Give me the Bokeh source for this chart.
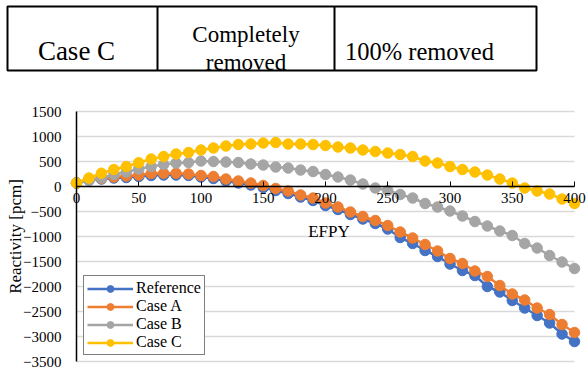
import math
from bokeh.plotting import figure
from bokeh.models import Range1d, LinearAxis, FixedTicker, Legend, LegendItem, Label, ColumnDataSource
from bokeh.core.properties import value
from bokeh.embed import file_html
from bokeh.resources import INLINE

# ---- data ----
efpy = list(range(0, 401, 10))
reference = [70, 130, 150, 170, 180, 200, 220, 230, 230, 220,
             190, 160, 110, 70, 30, -20, -80, -140, -210, -280,
             -380, -460, -560, -650, -740, -850, -1020, -1140, -1280, -1400,
             -1550, -1680, -1780, -2000, -2110, -2280, -2430, -2580, -2730, -2950,
             -3100]
case_a = [70, 150, 160, 190, 210, 230, 260, 265, 265, 250,
          220, 200, 150, 110, 70, 20, -40, -90, -170, -230,
          -330, -410, -510, -600, -680, -780, -910, -1030, -1160, -1290,
          -1440, -1540, -1690, -1800, -1980, -2150, -2270, -2430, -2560, -2760,
          -2920]
case_b = [70, 120, 170, 240, 290, 350, 400, 440, 470, 480,
          510, 500, 490, 480, 450, 430, 390, 370, 330, 300,
          240, 190, 130, 50, -30, -80, -160, -230, -340, -410,
          -490, -590, -700, -790, -890, -980, -1140, -1230, -1380, -1510,
          -1640]
case_c = [70, 170, 265, 340, 400, 475, 550, 600, 650, 680,
          730, 770, 810, 840, 850, 870, 880, 850, 850, 840,
          820, 790, 770, 730, 700, 670, 640, 600, 510, 470,
          400, 340, 290, 230, 150, 70, -30, -90, -150, -250,
          -340]
series_names = ["Reference", "Case A", "Case B", "Case C"]
series_colors = ["#4472C4", "#ED7D31", "#A5A5A5", "#FFC000"]
x_ticks = list(range(0, 401, 50))
y_ticks = list(range(-3500, 1501, 500))

table_texts = ["Case C", "Completely", "removed", "100% removed"]

SERIF = "Liberation Serif, DejaVu Serif, serif"

W, H = 588, 372
# plot-area placement on the page (pixels)
FL, FR, FT, FB = 76, 574, 111, 361
X0, X1 = x_ticks[0], x_ticks[-1]
Y0, Y1 = y_ticks[0], y_ticks[-1]
xs = (FR - FL) / (X1 - X0)
ys = (FB - FT) / (Y1 - Y0)

p = figure(width=W, height=H, x_range=Range1d(0, W), y_range=Range1d(H, 0),
           output_backend="svg", toolbar_location=None,
           x_axis_location=None, y_axis_location=None, min_border=0)
p.grid.visible = False
p.outline_line_color = None
p.extra_x_ranges = {"efpy": Range1d(X0 - FL / xs, X1 + (W - FR) / xs)}
p.extra_y_ranges = {"react": Range1d(Y0 - (H - FB) / ys, Y1 + FT / ys)}

# ---- table strip (page pixel coordinates) ----
p.quad(left=[7], right=[536], top=[6], bottom=[70], fill_color=None,
       line_color="black", line_width=2)
p.segment(x0=[157, 334], y0=[6, 6], x1=[157, 334], y1=[70, 70],
          line_color="black", line_width=2)
tsrc = ColumnDataSource(dict(x=[76, 245.5, 245.5, 419], y=[50.5, 33.5, 61.5, 50.5],
                             text=table_texts, fs=["27px", "23px", "23px", "24.5px"]))
p.text(x="x", y="y", text="text", source=tsrc,
       text_font=value(SERIF), text_font_size="fs", text_color="black",
       text_align="center", text_baseline="alphabetic")

# ---- gridlines ----
p.segment(x0=[X0] * len(y_ticks), x1=[X1] * len(y_ticks), y0=y_ticks, y1=y_ticks,
          line_color="#d9d9d9", line_width=1.5,
          x_range_name="efpy", y_range_name="react")

# ---- axes ----
ya = LinearAxis(x_range_name="efpy", y_range_name="react", fixed_location=0,
                bounds=(Y0, Y1), ticker=FixedTicker(ticks=y_ticks))
ya.major_label_text_font = SERIF
ya.major_label_text_font_size = "15px"
ya.major_label_text_color = "black"
ya.major_label_standoff = 15
ya.major_tick_in = 0
ya.major_tick_out = 0
ya.minor_tick_in = 0
ya.minor_tick_out = 0
ya.axis_line_color = "black"
ya.axis_line_width = 1.5
p.add_layout(ya, "left")

xa = LinearAxis(x_range_name="efpy", y_range_name="react", fixed_location=0,
                bounds=(X0, X1), ticker=FixedTicker(ticks=x_ticks))
xa.major_label_text_font = SERIF
xa.major_label_text_font_size = "15px"
xa.major_label_text_color = "black"
xa.major_label_standoff = 6
xa.major_tick_in = 5
xa.major_tick_out = 0
xa.minor_tick_in = 0
xa.minor_tick_out = 0
xa.axis_line_color = "black"
xa.axis_line_width = 1.5
p.add_layout(xa, "below")

p.add_layout(Label(x=15, y=(FT + FB) / 2, text="Reactivity [pcm]", angle=math.pi / 2,
                   text_font=SERIF, text_font_size="17px", text_color="black",
                   text_align="center", text_baseline="middle"))
p.add_layout(Label(x=328.5, y=231, text="EFPY",
                   text_font=SERIF, text_font_size="17px", text_color="black",
                   text_align="center", text_baseline="middle"))

# ---- series ----
items = []
for name, yv, col in zip(series_names, [reference, case_a, case_b, case_c], series_colors):
    r1 = p.line(efpy, yv, line_color=col, line_width=2.5,
                x_range_name="efpy", y_range_name="react")
    r2 = p.scatter(efpy, yv, size=10.5, fill_color=col, line_color=col,
                   x_range_name="efpy", y_range_name="react")
    items.append(LegendItem(label=name, renderers=[r1, r2]))

legend = Legend(items=items, location=(83, H - 355))
legend.label_text_font = SERIF
legend.label_text_font_size = "16px"
legend.label_text_color = "black"
legend.border_line_color = "black"
legend.border_line_width = 1.5
legend.background_fill_color = "white"
legend.background_fill_alpha = 1
legend.padding = 3
legend.spacing = 0
legend.margin = 0
legend.glyph_width = 46
legend.glyph_height = 17
legend.label_height = 17
legend.label_standoff = 3
p.add_layout(legend, "center")

open("out.html", "w").write(file_html(p, INLINE))
